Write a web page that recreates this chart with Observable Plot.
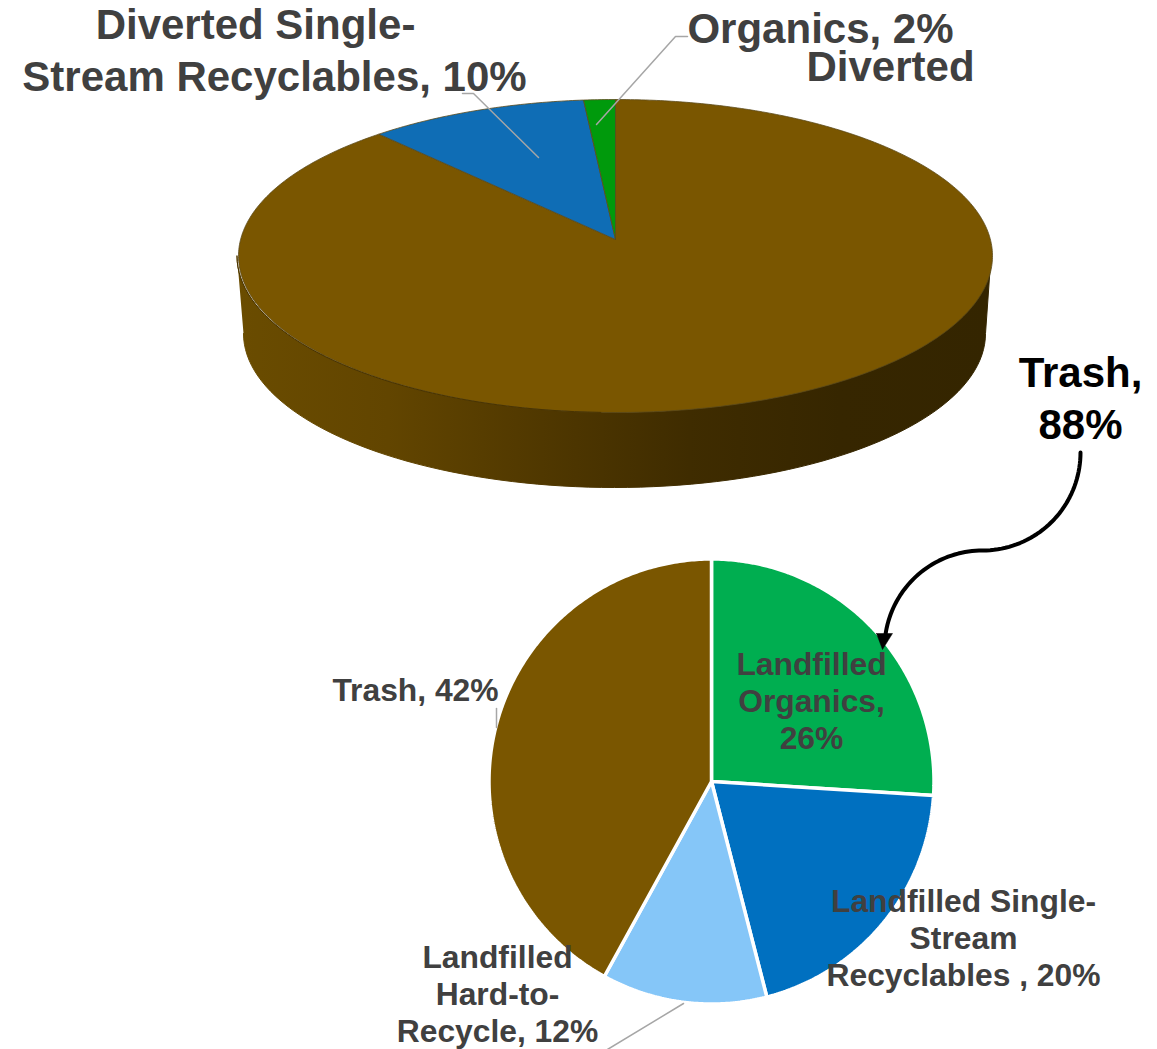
<!DOCTYPE html>
<html>
<head>
<meta charset="utf-8">
<script src="https://cdn.jsdelivr.net/npm/d3@7"></script>
<script src="https://cdn.jsdelivr.net/npm/@observablehq/plot@0.6"></script>
<style>html,body{margin:0;padding:0;background:#fff;overflow:hidden}svg{display:block}</style>
</head>
<body>
<div id="chart"></div>
<script>
// Upper (3D) pie: share of all material, clockwise from 12 o'clock
const upperKeys = ["Upper Trash", "Upper Recyclables", "Upper Organics"];
const upperValues = [88.1, 10.4, 1.5];
// Lower pie: breakdown of trash, clockwise from 12 o'clock
const lowerKeys = ["Landfilled Organics", "Landfilled Recyclables", "Landfilled Hard", "Landfilled Trash"];
const lowerValues = [26, 20, 12, 42];
const colorKeys = [...upperKeys, ...lowerKeys];
const colorValues = ["#7a5600", "#0f6db5", "#009a0c", "#00ae50", "#0070c0", "#85c6f8", "#7a5600"];

const greyLabels = [
  {text: "Diverted Single-", x: 255, y: 38, size: 42},
  {text: "Stream Recyclables, 10%", x: 274, y: 90, size: 42},
  {text: "Organics, 2%", x: 820, y: 42, size: 42},
  {text: "Diverted", x: 890, y: 80, size: 42},
  {text: "Trash, 42%", x: 415, y: 700, size: 31.8},
  {text: "Landfilled\nOrganics,\n26%", x: 811, y: 748, size: 31.8},
  {text: "Landfilled Single-\nStream\nRecyclables , 20%", x: 963, y: 985, size: 31.8},
  {text: "Landfilled\nHard-to-\nRecycle, 12%", x: 497, y: 1041, size: 31.8}
];
const blackLabels = [{text: "Trash,\n88%", x: 1080, y: 438, size: 42}];

const leaderLines = [
  {id: "recyclables", pts: [[538, 157], [473, 93], [462, 93]]},
  {id: "organics", pts: [[596, 124], [675, 36], [687, 36]]},
  {id: "hard", pts: [[683, 1003], [607, 1049]]},
  {id: "trash", pts: [[496, 708], [496, 727]]}
];
// the callout arrow is two quarter arcs joined at their tangent
const arrowArcs = [
  {cx: 982, cy: 452, r: 98, from: 0, to: 90},
  {cx: 982, cy: 648, r: 98, from: -90, to: -172}
];
const arrowHead = [[876, 633], [892, 633], [882, 649], [876, 633]];

// geometry of the two pies on the page
const top3d = {cx: 613.5, cy: 255.5, rx: 377, ry: 156.5, apexY: 239};
const base3d = {cx: 614, cy: 333, rx: 371, ry: 154};
const flat = {cx: 711, cy: 781, r: 222.5};

// Perspective disc: the true centre of the pie lands above the ellipse centre
const c = -(top3d.cy - top3d.apexY) / top3d.ry;
function project(a) {
  const u = Math.sin(a), v = -Math.cos(a), w = 1 + c * v;
  return [
    top3d.cx + 1.5 + top3d.rx * Math.sqrt(1 - c * c) * u / w,
    top3d.cy + top3d.ry * (v + c) / w
  ];
}
function sweep(start, end) {
  const n = Math.max(2, Math.ceil((end - start) * 90));
  return d3.range(n + 1).map(i => start + (end - start) * i / n);
}
const upperSlices = [];
let ua = 0;
upperKeys.forEach((key, i) => {
  const a0 = ua, a1 = ua + 2 * Math.PI * upperValues[i] / 100;
  const apex = [top3d.cx + 1.5, top3d.apexY];
  [apex, ...sweep(a0, a1).map(project), apex].forEach(([x, y]) => upperSlices.push({key, x, y}));
  ua = a1;
});
const lowerSlices = [];
let la = 0;
lowerKeys.forEach((key, i) => {
  const a0 = la, a1 = la + 2 * Math.PI * lowerValues[i] / 100;
  const centre = [flat.cx, flat.cy];
  [centre, ...sweep(a0, a1).map(a => [flat.cx + flat.r * Math.sin(a), flat.cy - flat.r * Math.cos(a)]), centre]
    .forEach(([x, y]) => lowerSlices.push({key, x, y}));
  la = a1;
});
// side wall: lower half of the top ellipse, back along the lower half of the base ellipse
const half = d3.range(0, 181, 2).map(d => d * Math.PI / 180);
const wall = [
  ...half.map(t => ({x: top3d.cx - top3d.rx * Math.cos(t), y: top3d.cy + top3d.ry * Math.sin(t)})),
  ...half.slice().reverse().map(t => ({x: base3d.cx - base3d.rx * Math.cos(t), y: base3d.cy + base3d.ry * Math.sin(t)}))
];
const rim = half.slice(0, 45).map(t => ({x: top3d.cx - top3d.rx * Math.cos(t), y: top3d.cy + top3d.ry * Math.sin(t)}));
const leaderPoints = leaderLines.flatMap(l => l.pts.map(([x, y]) => ({id: l.id, x, y})));
const arrowPoints = arrowArcs.flatMap(({cx, cy, r, from, to}) =>
  d3.range(41).map(i => {
    const t = (from + (to - from) * i / 40) * Math.PI / 180;
    return {x: cx + r * Math.cos(t), y: cy + r * Math.sin(t)};
  }));

const wallGradient = () => {
  const defs = d3.create("svg:defs");
  const g = defs.append("linearGradient").attr("id", "wallFill")
    .attr("gradientUnits", "userSpaceOnUse")
    .attr("x1", 237).attr("x2", 990).attr("y1", 0).attr("y2", 0);
  [[0, "#6a4c00"], [0.2, "#624500"], [0.45, "#4c3500"], [0.6, "#3f2c00"], [0.8, "#362600"], [1, "#342500"]]
    .forEach(([o, col]) => g.append("stop").attr("offset", o).attr("stop-color", col));
  return defs.node();
};
const textMarks = (rows, fill) => d3.groups(rows, d => d.size).map(([size, group]) =>
  Plot.text(group, {
    x: "x", y: "y", text: "text", fill, fontSize: size, fontWeight: "bold",
    fontFamily: "'Liberation Sans', Arial, sans-serif",
    lineAnchor: "bottom", lineHeight: size > 40 ? 52 / 42 : 37 / 31.8, textAnchor: "middle"
  }));

const chart = Plot.plot({
  width: 1157, height: 1049,
  marginTop: 0, marginRight: 0, marginBottom: 0, marginLeft: 0,
  x: {domain: [0, 1157], range: [0, 1157], axis: null},
  y: {domain: [0, 1049], range: [0, 1049], axis: null},
  color: {domain: colorKeys, range: colorValues},
  marks: [
    wallGradient,
    Plot.line(wall, {x: "x", y: "y", fill: "url(#wallFill)", stroke: "url(#wallFill)", strokeWidth: 1}),
    Plot.line(upperSlices, {x: "x", y: "y", z: "key", fill: "key", stroke: "#5c4a1a", strokeWidth: 0.8, strokeLinejoin: "round"}),
    Plot.line(rim, {x: "x", y: "y", stroke: "#4a3400", strokeWidth: 1}),
    Plot.line(lowerSlices, {x: "x", y: "y", z: "key", fill: "key", stroke: "#fff", strokeWidth: 3.5, strokeLinejoin: "miter"}),
    Plot.line(leaderPoints, {x: "x", y: "y", z: "id", stroke: "#a6a6a6", strokeWidth: 1.5}),
    Plot.line(arrowPoints, {x: "x", y: "y", stroke: "#000", strokeWidth: 4}),
    Plot.line(arrowHead.map(([x, y]) => ({x, y})), {x: "x", y: "y", fill: "#000", stroke: "#000", strokeWidth: 0.5}),
    ...textMarks(greyLabels, "#404040"),
    ...textMarks(blackLabels, "#000")
  ]
});
document.getElementById("chart").append(chart);
</script>
</body>
</html>
